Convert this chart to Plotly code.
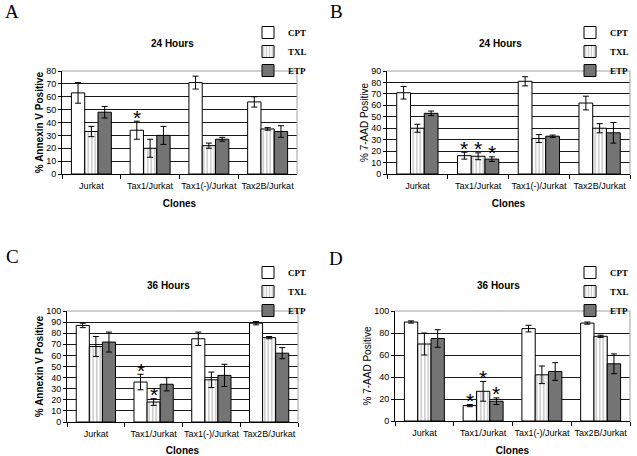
import plotly.graph_objects as go

# ---------------- data ----------------
clones = ["Jurkat", "Tax1/Jurkat", "Tax1(-)/Jurkat", "Tax2B/Jurkat"]
drugs = ["CPT", "TXL", "ETP"]

# A: 24 Hours, % Annexin V Positive
a_cpt = [63, 34, 71, 56]
a_cpt_err = [8, 7, 5, 4]
a_txl = [33, 20, 22, 35]
a_txl_err = [4, 7, 2, 1]
a_etp = [48, 30, 27, 33]
a_etp_err = [4.5, 7, 1.5, 4.5]
a_stars = [("Tax1/Jurkat", "CPT")]

# B: 24 Hours, % 7-AAD Positive
b_cpt = [71, 16, 81, 62]
b_cpt_err = [5.5, 3, 4, 6]
b_txl = [40, 15.5, 31, 40]
b_txl_err = [3.5, 3, 3.5, 4]
b_etp = [53, 13, 33, 36]
b_etp_err = [2, 2, 1, 9]
b_stars = [("Tax1/Jurkat", "CPT"), ("Tax1/Jurkat", "TXL"), ("Tax1/Jurkat", "ETP")]

# C: 36 Hours, % Annexin V Positive
c_cpt = [87, 36, 75, 89]
c_cpt_err = [2, 7, 6, 1.5]
c_txl = [68, 18, 38, 76]
c_txl_err = [9, 3, 7, 1]
c_etp = [72, 34, 42, 62]
c_etp_err = [9, 6, 10, 5]
c_stars = [("Tax1/Jurkat", "CPT"), ("Tax1/Jurkat", "TXL")]

# D: 36 Hours, % 7-AAD Positive
d_cpt = [90, 14, 84, 89]
d_cpt_err = [1, 1, 3, 1]
d_txl = [70, 27, 42, 77]
d_txl_err = [10, 9, 8, 1]
d_etp = [75, 18, 45, 52]
d_etp_err = [8, 3, 8, 9]
d_stars = [("Tax1/Jurkat", "CPT"), ("Tax1/Jurkat", "TXL"), ("Tax1/Jurkat", "ETP")]

panel_letters = ["A", "B", "C", "D"]
panel_titles = ["24 Hours", "24 Hours", "36 Hours", "36 Hours"]
y_titles = ["% Annexin V Positive", "% 7-AAD Positive",
            "% Annexin V Positive", "% 7-AAD Positive"]
x_title = "Clones"
y_max = [80, 90, 100, 100]
y_dtick = [10, 10, 10, 20]

# ---------------- layout geometry ----------------
W, H = 637, 456
BARGAP = 0.32
SANS = "Liberation Sans, Arial, sans-serif"
SERIF = "Liberation Serif, Times New Roman, serif"


def px_x(p):
    return p / W


def px_y(p):
    return 1 - p / H


geo = [
    dict(x0=62, x1=297, y0=71, y1=174, letter=(12, 11), title=(172, 44), leg=(248, 18)),
    dict(x0=387, x1=630, y0=71, y1=174, letter=(336, 11), title=(500, 44), leg=(570, 18)),
    dict(x0=67, x1=298, y0=311, y1=422, letter=(13, 256), title=(168, 285), leg=(248, 258)),
    dict(x0=395, x1=630, y0=311, y1=421, letter=(336, 258), title=(498, 285), leg=(570, 258)),
]

panels = [
    ([a_cpt, a_txl, a_etp], [a_cpt_err, a_txl_err, a_etp_err], a_stars),
    ([b_cpt, b_txl, b_etp], [b_cpt_err, b_txl_err, b_etp_err], b_stars),
    ([c_cpt, c_txl, c_etp], [c_cpt_err, c_txl_err, c_etp_err], c_stars),
    ([d_cpt, d_txl, d_etp], [d_cpt_err, d_txl_err, d_etp_err], d_stars),
]

markers = [
    dict(color="white", line=dict(color="black", width=1)),
    dict(color="white", line=dict(color="black", width=1),
         pattern=dict(shape="|", fgcolor="#8a8a8a", bgcolor="white", size=3.5, solidity=0.4)),
    dict(color="#747474", line=dict(color="black", width=1)),
]

fig = go.Figure()
annotations = []
shapes = []
layout_axes = {}

for i, (vals, errs, stars) in enumerate(panels):
    g = geo[i]
    xa = "x" if i == 0 else f"x{i + 1}"
    ya = "y" if i == 0 else f"y{i + 1}"
    leg = "legend" if i == 0 else f"legend{i + 1}"
    for k, drug in enumerate(drugs):
        fig.add_trace(go.Bar(
            x=clones, y=vals[k], name=drug,
            marker=markers[k],
            error_y=dict(type="data", array=errs[k], color="black", thickness=1, width=3),
            xaxis=xa, yaxis=ya, legend=leg, showlegend=True,
        ))
    bold_y = i in (0, 2)
    layout_axes["xaxis" if i == 0 else f"xaxis{i + 1}"] = dict(
        domain=[px_x(g["x0"]), px_x(g["x1"])], anchor=ya,
        type="category", categoryarray=clones,
        showline=True, linecolor="black", linewidth=1,
        ticks="outside", ticklen=4, tickcolor="black", tickson="boundaries",
        tickangle=0, automargin=False, ticklabelstandoff=3,
        tickfont=dict(family=SANS, size=9, color="black"),
        showgrid=False, zeroline=False,
        title=dict(text=x_title, font=dict(family=SANS, size=10, color="black", weight="bold"),
                   standoff=10),
    )
    layout_axes["yaxis" if i == 0 else f"yaxis{i + 1}"] = dict(
        domain=[px_y(g["y1"]), px_y(g["y0"])], anchor=xa,
        range=[0, y_max[i]], dtick=y_dtick[i], automargin=False,
        showline=True, linecolor="black", linewidth=1,
        ticks="outside", ticklen=3, tickcolor="black",
        tickfont=dict(family=SANS, size=9, color="black"),
        showgrid=True, gridcolor="#1a1a1a", gridwidth=1, zeroline=False,
        title=dict(text=y_titles[i],
                   font=dict(family=SANS, size=10, color="black",
                             weight="bold" if bold_y else "normal"),
                   standoff=0),
    )
    # plot frame top/right (grey)
    shapes.append(dict(type="line", xref=f"{xa} domain", yref=f"{ya} domain",
                       x0=0, x1=1, y0=1, y1=1, line=dict(color="#a0a0a0", width=1)))
    shapes.append(dict(type="line", xref=f"{xa} domain", yref=f"{ya} domain",
                       x0=1, x1=1, y0=0, y1=1, line=dict(color="#a0a0a0", width=1)))
    # legend
    fig.update_layout({leg: dict(
        x=px_x(g["leg"][0]), y=px_y(g["leg"][1]), xanchor="left", yanchor="top",
        bgcolor="rgba(0,0,0,0)", borderwidth=0,
        font=dict(family=SERIF, size=9, color="black", weight="bold"),
        itemwidth=30, tracegroupgap=0,
    )})
    # titles and letters
    annotations.append(dict(text=panel_titles[i], xref="paper", yref="paper",
                            x=px_x(g["title"][0]), y=px_y(g["title"][1]),
                            xanchor="center", yanchor="middle", showarrow=False,
                            font=dict(family=SANS, size=10, color="black", weight="bold")))
    annotations.append(dict(text=panel_letters[i], xref="paper", yref="paper",
                            x=px_x(g["letter"][0]), y=px_y(g["letter"][1]),
                            xanchor="center", yanchor="middle", showarrow=False,
                            font=dict(family=SERIF, size=19, color="black")))
    # significance asterisks
    bw = (1 - BARGAP) / 3
    for clone, drug in stars:
        ci = clones.index(clone)
        k = drugs.index(drug)
        annotations.append(dict(
            text="*", xref=xa, yref=ya,
            x=ci + (k - 1) * bw, y=vals[k][ci] + errs[k][ci],
            xanchor="center", yanchor="middle", yshift=4, showarrow=False,
            font=dict(family=SANS, size=21, color="black")))

fig.update_layout(**layout_axes)
fig.update_layout(
    width=W, height=H, autosize=False,
    margin=dict(l=0, r=0, t=0, b=0, autoexpand=False),
    paper_bgcolor="white", plot_bgcolor="white",
    barmode="group", bargap=BARGAP, bargroupgap=0,
    annotations=annotations, shapes=shapes,
    font=dict(family=SANS, color="black"),
)

fig.write_html("out.html", config={"displayModeBar": False},
               post_script="document.body.style.margin='0';document.body.style.padding='0';")
